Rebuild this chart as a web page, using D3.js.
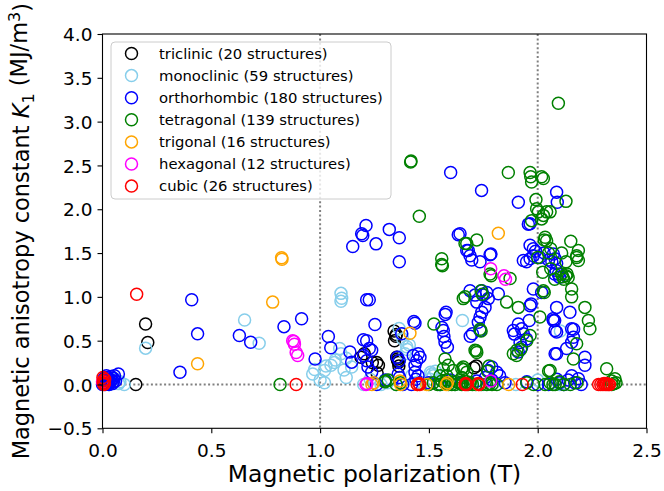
<!DOCTYPE html>
<html>
<head>
<meta charset="utf-8">
<script src="https://cdn.jsdelivr.net/npm/d3@7"></script>
<style>
  html, body { margin: 0; padding: 0; background: #fff; }
  svg { display: block; font-family: "DejaVu Sans", sans-serif; }
</style>
</head>
<body>
<svg id="chart" width="664" height="491"></svg>
<script>
// Crystal-system families, legend order (also the drawing order)
const families = ["triclinic", "monoclinic", "orthorhombic", "tetragonal", "trigonal", "hexagonal", "cubic"];
const familyColors = ["#000000", "#87ceeb", "#0000ff", "#008000", "#ffa500", "#ff00ff", "#ff0000"];

// [polarization (T), K1 (MJ/m^3)] for each structure
const triclinic = [
  [0.153,0.0],[0.198,0.69],[0.208,0.48],
  [1.188,0.31],[1.203,0.35],[1.24,0.25],[1.26,0.25],[1.268,0.22],[1.262,0.13],
  [1.34,0.61],[1.348,0.55],[1.342,0.50],[1.352,0.31],[1.357,0.27],[1.36,0.25],[1.362,0.21],[1.355,0.29],
  [1.707,0.19],[1.718,0.21],[1.35,0.57]
];
const monoclinic = [
  [0.08,0.03],[0.074,0.01],[0.05,0.02],[0.03,0.0],[0.02,0.05],[0.06,0.06],
  [0.198,0.415],[0.653,0.735],[0.72,0.47],
  [1.096,1.04],[1.096,0.95],[1.099,0.985],
  [0.966,0.12],[0.975,0.17],[1.02,0.16],[1.027,0.21],[1.02,0.02],[1.066,0.25],[1.07,0.28],
  [1.11,0.165],[1.09,0.41],[1.096,0.35],[1.12,0.30],[1.05,0.22],[1.145,0.2],[1.12,0.08],
  [1.363,0.64],[1.375,0.58],[1.398,0.43],[1.40,0.40],[1.39,0.35],[1.38,0.52],[1.41,0.45],
  [1.508,0.14],[1.513,0.12],[1.52,0.10],[1.505,0.06],[1.53,0.15],
  [1.654,0.73],[2.104,0.61],
  [1.25,0.02],[1.23,0.06],[1.28,0.0],
  [1.47,0.02],[1.55,0.05],[1.6,0.02],[1.62,0.0],[1.42,0.1],[1.44,0.02],
  [1.75,0.0],[1.8,0.02],[1.9,0.0],[2.0,0.05],[2.1,0.0],[1.35,0.0],
  [0.1,0.0],[1.0,0.05],[1.2,0.0],[1.31,0.02]
];
const orthorhombic = [
  [0.0,0.0],[0.005,0.02],[0.01,0.05],[0.012,0.0],[0.015,0.03],[0.02,0.08],[0.02,0.01],[0.025,0.04],
  [0.03,0.06],[0.03,0.0],[0.035,0.02],[0.04,0.05],[0.04,0.09],[0.045,0.01],[0.05,0.03],[0.05,0.07],
  [0.055,0.1],[0.06,0.04],[0.008,0.07],[0.018,0.1],
  [0.073,0.12],[0.356,0.14],[0.41,0.967],[0.437,0.578],[0.629,0.56],[0.681,0.483],[0.834,0.66],
  [0.915,0.75],[0.977,0.29],[1.038,0.548],[1.049,0.42],[1.137,0.37],[1.145,0.255],[1.199,0.51],
  [1.15,1.575],[1.191,1.72],[1.196,1.70],[1.211,1.815],[1.257,1.605],[1.318,1.77],[1.364,1.675],
  [1.364,1.40],[1.60,2.42],[1.742,2.215],[1.911,2.08],[2.087,2.195],[2.09,2.08],[1.643,1.72],[1.635,1.71],
  [1.214,0.967],[1.226,0.967],[1.252,0.685],[1.214,0.50],[1.226,0.41],[1.237,0.39],[1.20,0.33],
  [1.214,0.27],[1.237,0.14],[1.22,0.2],
  [1.431,0.72],[1.436,0.70],[1.355,0.31],[1.364,0.27],[1.375,0.58],[1.359,0.12],[1.365,0.08],
  [1.428,0.33],[1.451,0.35],[1.459,0.31],[1.444,0.27],[1.436,0.22],[1.436,0.14],[1.44,0.06],[1.45,0.1],
  [1.579,0.825],[1.575,0.80],[1.566,0.616],[1.569,0.548],[1.574,0.483],[1.585,0.426],[1.56,0.65],
  [1.674,1.53],[1.681,1.53],[1.689,1.47],[1.697,1.42],[1.735,1.40],[1.781,1.48],[1.785,1.49],
  [1.689,1.07],[1.712,1.02],[1.72,0.94],[1.743,1.07],[1.75,1.02],[1.766,1.05],[1.773,0.98],
  [1.758,0.88],[1.743,0.825],[1.735,0.77],[1.727,0.71],[1.735,0.616],[1.819,1.035],[1.70,0.58],[1.69,0.55],
  [1.789,0.20],[1.773,0.16],[1.812,0.14],[1.825,0.10],[1.79,0.05],[1.76,0.08],
  [1.934,1.415],[1.949,1.40],[1.965,1.435],[1.98,1.47],[1.965,1.59],[1.98,1.55],[1.965,1.835],
  [1.957,1.83],[2.01,1.45],[1.99,1.52],[2.03,1.50],[2.05,1.42],[2.065,1.40],[2.072,1.49],
  [1.98,1.09],[2.018,1.05],[1.965,0.90],[1.97,0.92],[2.072,0.73],[2.087,0.60],[2.087,0.35],[2.078,0.73],
  [1.911,0.69],[1.926,0.635],[1.934,0.58],[1.949,0.52],[1.919,0.48],[1.926,0.425],[1.911,0.37],
  [1.888,0.616],[1.893,0.575],[1.961,0.73],
  [2.08,1.435],[2.087,1.38],[2.095,1.26],[2.10,1.225],[2.078,1.26],[2.085,1.30],
  [2.087,0.88],[2.148,0.825],[2.07,0.75],[2.08,0.616],[2.156,0.635],[2.164,0.54],[2.156,0.483],
  [2.133,0.41],[2.08,0.35],[2.217,0.31],[2.217,0.22],[2.156,0.10],[2.187,0.065],[2.165,0.63],
  [2.088,0.06],[2.1,0.02],[2.05,0.0],[2.12,0.0],[2.17,0.02],[1.5,0.02],[1.42,0.0],[1.38,0.0],
  [1.95,0.03],[2.0,0.0],[1.85,0.02],[1.6,0.05],[1.65,0.02],[1.26,0.0],[1.3,0.05],[2.2,0.0],
  [1.72,0.04],[2.14,0.05],[1.55,0.0]
];
const tetragonal = [
  [2.095,3.21],[1.416,2.54],[1.418,2.55],[1.456,1.92],[1.865,2.42],[1.965,2.42],[1.968,2.37],
  [1.972,2.31],[2.018,2.37],[2.026,2.35],[1.992,2.11],[1.995,2.005],[2.003,1.97],[2.026,1.93],
  [2.041,1.97],[2.057,1.97],[2.018,1.89],[1.972,1.87],[2.13,2.09],
  [1.559,1.435],[1.559,1.37],[1.562,1.355],[1.666,1.61],[1.674,1.61],[1.72,1.65],
  [2.034,1.68],[2.041,1.64],[2.03,1.65],[2.152,1.635],[2.187,1.53],[2.179,1.45],[2.179,1.47],
  [2.187,1.415],[2.06,1.55],[2.05,1.50],[2.0,1.45],[2.11,1.50],[2.13,1.40],
  [1.781,1.26],[1.873,1.21],[1.786,1.24],[2.023,1.28],[2.06,1.32],[2.078,1.2],[2.11,1.26],
  [2.12,1.2],[2.13,1.24],[2.14,1.22],[2.115,1.23],[2.135,1.26],
  [2.156,1.09],[2.156,1.0],[2.217,0.88],[2.233,0.73],[2.24,0.635],[2.179,0.465],[2.164,0.29],
  [2.026,1.07],[2.03,1.05],[2.01,0.77],[1.857,0.94],[1.911,0.88],[1.666,1.0],[1.658,0.98],
  [1.74,1.07],[1.745,1.03],[1.523,0.69],[1.735,0.63],[1.74,0.61],[1.718,0.385],[1.72,0.365],
  [1.712,0.39],[1.965,0.56],[1.888,0.35],[1.904,0.39],[1.95,0.50],[1.922,0.40],[1.903,0.33],
  [1.574,0.29],[1.589,0.22],[1.566,0.18],[1.551,0.10],[1.582,0.10],[1.612,0.16],[1.651,0.18],
  [1.651,0.08],[1.674,0.14],[1.658,0.20],[1.66,0.17],[1.776,0.21],[1.77,0.15],[2.057,0.16],
  [2.05,0.155],[2.317,0.18],[2.355,0.065],[2.34,0.04],[1.298,0.03],[1.313,0.05],[1.30,0.04],
  [0.816,0.0],[1.35,0.0],[1.37,0.02],[1.553,0.0],[1.574,0.02],[1.582,0.05],[1.605,0.0],[1.628,0.03],
  [1.651,0.0],[1.674,0.03],[1.654,0.01],[1.70,0.0],[1.716,0.0],[1.766,0.0],[1.812,0.0],[1.981,0.0],
  [2.034,0.0],[2.057,0.02],[2.08,0.0],[2.1,0.03],[2.12,0.0],[2.15,0.0],[2.18,0.02],[1.56,0.04],
  [1.54,0.0],[1.59,0.0],[1.62,0.0],[1.64,0.02],[1.68,0.0],[1.69,0.02],[1.74,0.0],[1.78,0.01],
  [1.79,0.0],[1.95,0.02],[2.07,0.0],[2.35,0.01],[2.36,0.02],[2.34,0.0],[1.52,0.02],[1.5,0.0]
];
const trigonal = [
  [0.823,1.446],[0.825,1.43],[0.782,0.94],[0.437,0.236],[1.819,1.727],[1.413,0.585],
  [1.238,0.0],[1.367,0.04],[1.447,0.0],[1.49,0.0],[1.58,0.0],[1.585,0.02],[1.728,0.0],
  [1.867,0.0],[1.245,0.02],[1.37,0.0]
];
const hexagonal = [
  [0.874,0.50],[0.882,0.46],[0.89,0.365],[0.897,0.33],[1.211,0.0],[1.784,1.32],
  [1.845,1.24],[1.852,1.20],[1.784,0.04],[0.0,0.03],[1.215,0.01],[0.88,0.49]
];
const cubic = [
  [0.157,1.03],
  [0.002,0.08],[0.004,0.04],[0.006,0.0],[0.003,0.02],[0.01,0.06],[0.008,0.01],
  [0.89,0.0],[1.447,0.0],[1.455,0.01],[1.666,0.0],[1.669,0.01],[1.673,0.0],
  [1.73,0.0],[1.727,0.01],[1.929,0.0],
  [2.28,0.0],[2.29,0.0],[2.30,0.0],[2.31,0.0],[2.315,0.01],[2.325,0.0],[2.33,0.0],[2.318,0.0],
  [1.458,0.0],[2.305,0.01]
];
const familyData = [triclinic, monoclinic, orthorhombic, tetragonal, trigonal, hexagonal, cubic];

const xTicks = [0, 0.5, 1.0, 1.5, 2.0, 2.5];
const yTicks = [-0.5, 0, 0.5, 1.0, 1.5, 2.0, 2.5, 3.0, 3.5, 4.0];
const xGuides = [1.0, 2.0];
const yGuides = [0];

const svg = d3.select("#chart");
const plot = { left: 102.5, right: 646.5, top: 34, bottom: 428.3 };

const x = d3.scaleLinear().domain([0, 2.5]).range([plot.left, plot.right]);
const y = d3.scaleLinear().domain([-0.5, 4.0]).range([plot.bottom, plot.top]);

// dotted reference lines
const guides = svg.append("g")
  .attr("stroke", "#808080").attr("stroke-width", 2).attr("stroke-dasharray", "2,2.4");
guides.selectAll("line.v").data(xGuides).join("line").attr("class", "v")
  .attr("x1", d => x(d)).attr("x2", d => x(d)).attr("y1", plot.top).attr("y2", plot.bottom);
guides.selectAll("line.h").data(yGuides).join("line").attr("class", "h")
  .attr("x1", plot.left).attr("x2", plot.right).attr("y1", d => y(d)).attr("y2", d => y(d));

// scatter markers: open circles
const marks = svg.append("g").attr("fill", "none").attr("stroke-width", 1.5);
familyData.forEach((pts, i) => {
  marks.append("g").attr("stroke", familyColors[i])
    .selectAll("circle").data(pts).join("circle")
    .attr("cx", d => x(d[0])).attr("cy", d => y(d[1])).attr("r", 6);
});

// axes
const fmt = d3.format(".1f");
const xAxis = svg.append("g").attr("transform", `translate(0,${plot.bottom})`)
  .call(d3.axisBottom(x).tickValues(xTicks).tickFormat(fmt).tickSize(5).tickPadding(6));
const yAxis = svg.append("g").attr("transform", `translate(${plot.left},0)`)
  .call(d3.axisLeft(y).tickValues(yTicks).tickFormat(fmt).tickSize(5).tickPadding(5));
[xAxis, yAxis].forEach(a => {
  a.select(".domain").remove();
  a.selectAll(".tick line").attr("stroke", "#000").attr("stroke-width", 1.1);
  a.selectAll(".tick text").attr("fill", "#000")
    .style("font-family", "DejaVu Sans").style("font-size", "18.5px");
});
xAxis.selectAll(".tick text").attr("dy", "0.95em");
yAxis.selectAll(".tick text").attr("dy", "0.36em");

// frame
svg.append("rect")
  .attr("x", plot.left).attr("y", plot.top)
  .attr("width", plot.right - plot.left).attr("height", plot.bottom - plot.top)
  .attr("fill", "none").attr("stroke", "#000").attr("stroke-width", 1.1);

// axis titles
svg.append("text")
  .attr("x", (plot.left + plot.right) / 2).attr("y", 482)
  .attr("text-anchor", "middle").style("font-size", "23.5px")
  .text("Magnetic polarization (T)");

const yTitle = svg.append("text")
  .attr("transform", `translate(29,${(plot.top + plot.bottom) / 2}) rotate(-90)`)
  .attr("text-anchor", "middle").style("font-size", "22.5px");
yTitle.append("tspan").text("Magnetic anisotropy constant ");
yTitle.append("tspan").style("font-style", "italic").text("K");
yTitle.append("tspan").attr("dy", "0.3em").style("font-size", "16px").text("1");
yTitle.append("tspan").attr("dy", "-0.3em").text(" (MJ/m");
yTitle.append("tspan").attr("dy", "-0.45em").style("font-size", "16px").text("3");
yTitle.append("tspan").attr("dy", "0.45em").text(")");

// legend
const legend = svg.append("g");
legend.append("rect")
  .attr("x", 111).attr("y", 42).attr("width", 280).attr("height", 157).attr("rx", 4)
  .attr("fill", "#fff").attr("fill-opacity", 0.8).attr("stroke", "#cccccc").attr("stroke-width", 1);
const rows = legend.selectAll("g.row").data(families).join("g").attr("class", "row")
  .attr("transform", (d, i) => `translate(0,${53.5 + i * 22.1})`);
rows.append("circle").attr("cx", 131.5).attr("cy", 0).attr("r", 6)
  .attr("fill", "none").attr("stroke-width", 1.5).attr("stroke", (d, i) => familyColors[i]);
rows.append("text").attr("x", 159).attr("y", 0).attr("dy", "0.35em")
  .style("font-size", "14.8px")
  .text((d, i) => `${d} (${familyData[i].length} structures)`);
</script>
</body>
</html>
